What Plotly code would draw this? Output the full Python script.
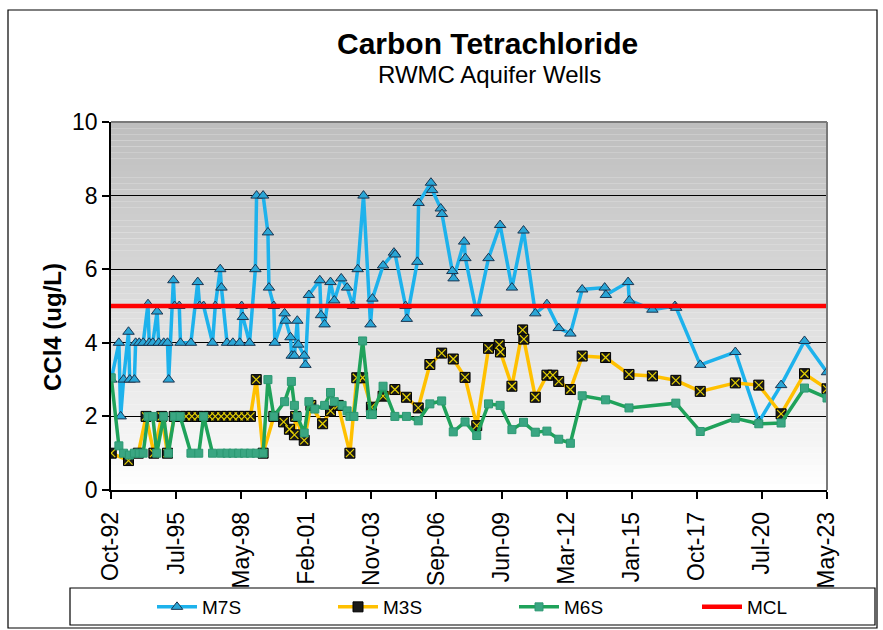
import pandas as pd
import plotly.graph_objects as go

# ---------------- data ----------------
m7s_dates = [
    "1992-10-05", "1993-02-01", "1993-03-01", "1993-04-15", "1993-07-01", "1993-07-20",
    "1993-10-01", "1993-10-20", "1993-12-15", "1994-02-15", "1994-05-01", "1994-05-20",
    "1994-07-15", "1994-09-20", "1994-10-15", "1995-01-01", "1995-03-01", "1995-03-20",
    "1995-06-01", "1995-06-20", "1995-09-01", "1995-09-20", "1996-03-01", "1996-06-15",
    "1996-07-15", "1996-09-15", "1997-02-01", "1997-03-15", "1997-06-01", "1997-06-20",
    "1997-09-15", "1997-12-15", "1998-04-01", "1998-05-01", "1998-05-20", "1998-09-01",
    "1998-12-01", "1998-12-20", "1999-04-01", "1999-06-15", "1999-07-01", "1999-09-15",
    "1999-10-01", "2000-03-01", "2000-03-20", "2000-06-01", "2000-06-20", "2000-08-01",
    "2000-09-15", "2000-10-01", "2001-01-01", "2001-01-20", "2001-03-15", "2001-09-01",
    "2001-09-20", "2001-11-15", "2002-02-15", "2002-04-15", "2002-08-01", "2002-11-01",
    "2003-02-01", "2003-04-15", "2003-07-15", "2003-11-01", "2003-12-01", "2004-05-15",
    "2004-11-01", "2004-11-20", "2005-05-01", "2005-05-20", "2005-11-01", "2005-11-20",
    "2006-06-01", "2006-06-20", "2006-11-01", "2006-11-20", "2007-05-01", "2007-05-20",
    "2007-11-01", "2007-11-20", "2008-05-15", "2008-11-15", "2009-05-15", "2009-11-15",
    "2010-05-15", "2010-11-15", "2011-05-15", "2011-11-15", "2012-05-15", "2012-11-15",
    "2013-11-01", "2013-11-20", "2014-11-01", "2014-11-20", "2015-11-15", "2016-11-01",
    "2016-11-20", "2017-12-01", "2019-06-01", "2020-06-01", "2021-05-15", "2022-05-15",
    "2023-05-01",
]
m7s_values = [
    3.0, 4.0, 2.0, 3.0, 4.3, 3.0,
    3.0, 4.0, 4.0, 4.0, 5.05, 4.0,
    4.0, 4.85, 4.0, 4.0, 4.0, 3.0,
    5.7, 5.0, 5.0, 4.0, 4.0, 5.65,
    5.0, 5.0, 4.0, 5.0, 6.0, 5.5,
    4.0, 4.0, 4.0, 5.0, 4.7, 4.0,
    6.0, 8.0, 8.0, 7.0, 5.5, 5.0,
    4.0, 4.8, 4.6, 4.15, 3.65, 3.65,
    4.6, 3.95, 3.65, 3.4, 5.3, 5.7,
    4.75, 4.5, 5.65, 5.15, 5.75, 5.5,
    5.0, 6.0, 8.0, 4.5, 5.2, 6.1,
    6.45, 6.4, 5.0, 4.65, 6.2, 7.8,
    8.35, 8.15, 7.65, 7.5, 5.95, 5.75,
    6.75, 6.3, 4.8, 6.3, 7.2, 5.5,
    7.05, 4.8, 5.05, 4.4, 4.25, 5.45,
    5.5, 5.3, 5.65, 5.15, 4.9, 5.0,
    4.95, 3.4, 3.75, 1.85, 2.85, 4.05,
    3.2,
]

m3s_dates = [
    "1992-10-05", "1993-07-01", "1993-12-01", "1994-04-01", "1994-08-01", "1994-12-01",
    "1995-03-01", "1995-06-15", "1995-09-15", "1995-12-15", "1996-03-15", "1996-06-15",
    "1996-09-15", "1996-12-15", "1997-03-15", "1997-06-15", "1997-09-15", "1997-12-15",
    "1998-03-15", "1998-06-15", "1998-09-15", "1998-12-15", "1999-04-01", "1999-09-15",
    "2000-02-15", "2000-05-15", "2000-08-01", "2000-08-20", "2001-01-01", "2001-04-15",
    "2001-10-15", "2002-02-15", "2002-06-15", "2002-12-15", "2003-04-01", "2003-07-01",
    "2003-11-15", "2004-05-15", "2004-11-15", "2005-05-15", "2005-11-15", "2006-05-15",
    "2006-11-15", "2007-05-15", "2007-11-15", "2008-05-15", "2008-11-15", "2009-05-01",
    "2009-05-20", "2009-11-15", "2010-05-01", "2010-05-20", "2010-11-15", "2011-05-15",
    "2011-08-15", "2011-11-15", "2012-05-15", "2012-11-15", "2013-11-15", "2014-11-15",
    "2015-11-15", "2016-11-15", "2017-12-01", "2019-06-01", "2020-06-01", "2021-05-15",
    "2022-05-15", "2023-05-01",
]
m3s_values = [
    1.0, 0.8, 1.0, 2.0, 1.0, 2.0,
    1.0, 2.0, 2.0, 2.0, 2.0, 2.0,
    2.0, 2.0, 2.0, 2.0, 2.0, 2.0,
    2.0, 2.0, 2.0, 3.0, 1.0, 2.0,
    1.85, 1.65, 1.5, 2.0, 1.35, 2.3,
    1.8, 2.15, 2.3, 1.0, 3.05, 3.05,
    2.25, 2.55, 2.73, 2.52, 2.23, 3.41,
    3.72, 3.56, 3.06, 1.75, 3.85, 3.95,
    3.75, 2.82, 4.35, 4.1, 2.52, 3.12,
    3.12, 2.95, 2.73, 3.64, 3.6, 3.14,
    3.1, 2.98, 2.68, 2.91, 2.85, 2.07,
    3.16, 2.75,
]

m6s_dates = [
    "1992-10-05", "1993-02-01", "1993-04-15", "1993-07-15", "1993-10-01", "1993-12-15",
    "1994-02-15", "1994-05-01", "1994-07-15", "1994-09-15", "1995-01-01", "1995-03-15",
    "1995-06-15", "1995-09-15", "1996-03-01", "1996-07-01", "1996-09-15", "1997-02-01",
    "1997-06-15", "1997-09-15", "1997-12-15", "1998-03-15", "1998-06-15", "1998-09-15",
    "1998-12-15", "1999-04-01", "1999-06-15", "1999-09-15", "2000-03-01", "2000-06-15",
    "2000-08-01", "2000-09-15", "2001-01-01", "2001-03-15", "2001-06-15", "2001-11-15",
    "2002-02-15", "2002-04-15", "2002-08-15", "2002-11-01", "2002-12-15", "2003-02-15",
    "2003-07-01", "2003-11-01", "2003-12-01", "2004-05-15", "2004-11-15", "2005-05-15",
    "2005-11-15", "2006-05-15", "2006-11-15", "2007-05-15", "2007-11-15", "2008-05-15",
    "2008-11-15", "2009-05-15", "2009-11-15", "2010-05-15", "2010-11-15", "2011-05-15",
    "2011-11-15", "2012-05-15", "2012-11-15", "2013-11-15", "2014-11-15", "2016-11-15",
    "2017-12-01", "2019-06-01", "2020-06-01", "2021-05-15", "2022-05-15", "2023-05-01",
]
m6s_values = [
    3.05, 1.2, 1.0, 0.95, 1.0, 1.0,
    1.0, 2.0, 2.0, 1.0, 2.0, 1.0,
    2.0, 2.0, 1.0, 1.0, 2.0, 1.0,
    1.0, 1.0, 1.0, 1.0, 1.0, 1.0,
    1.0, 1.0, 3.0, 2.0, 2.4, 2.95,
    2.3, 2.0, 1.55, 2.4, 2.2, 2.3,
    2.65, 2.4, 2.3, 2.15, 2.0, 2.0,
    4.05, 2.05, 2.05, 2.82, 2.0, 2.0,
    1.88, 2.34, 2.42, 1.58, 1.85, 1.48,
    2.34, 2.3, 1.64, 1.84, 1.57, 1.6,
    1.38, 1.27, 2.56, 2.45, 2.23, 2.36,
    1.59, 1.95, 1.8, 1.82, 2.77, 2.5,
]

mcl_value = 5.0
x_start, x_end = "1992-10-01", "2023-05-01"
x_tick_labels = ["Oct-92", "Jul-95", "May-98", "Feb-01", "Nov-03", "Sep-06",
                 "Jun-09", "Mar-12", "Jan-15", "Oct-17", "Jul-20", "May-23"]
y_tick_values = [0, 2, 4, 6, 8, 10]

# ---------------- layout geometry (pixels) ----------------
W, H = 883, 630
PL, PR, PT, PB = 111, 827, 122, 490      # plot area edges


def px_x(px):
    return (px - PL) / (PR - PL)


def px_y(py):
    return (PB - py) / (PB - PT)


FONT = "Arial, Liberation Sans, sans-serif"

x_tick_vals = pd.date_range(pd.Timestamp(x_start), pd.Timestamp(x_end),
                            periods=len(x_tick_labels))

fig = go.Figure()

# M7S
fig.add_trace(go.Scatter(
    x=m7s_dates, y=m7s_values, name="M7S", mode="lines+markers",
    legend="legend",
    line=dict(color="#1db2ec", width=3.5),
    marker=dict(symbol="triangle-up", size=10, color="#2aa6d6",
                line=dict(color="#1b3550", width=1)),
))

# M3S: black squares with a yellow cross
fig.add_trace(go.Scatter(
    x=m3s_dates, y=m3s_values, name="M3S", mode="lines+markers",
    legend="legend2",
    line=dict(color="#ffc000", width=3.5),
    marker=dict(symbol="square", size=10, color="#1a1a1a",
                line=dict(color="#000000", width=1)),
))
fig.add_trace(go.Scatter(
    x=m3s_dates, y=m3s_values, mode="markers", showlegend=False,
    hoverinfo="skip",
    marker=dict(symbol="x-thin-open", size=8, color="#e6d200",
                line=dict(color="#e6d200", width=1.2)),
))

# M6S
fig.add_trace(go.Scatter(
    x=m6s_dates, y=m6s_values, name="M6S", mode="lines+markers",
    legend="legend3",
    line=dict(color="#1fa25a", width=3.5),
    marker=dict(symbol="square", size=8, color="#3aa682",
                line=dict(color="#2b9872", width=1)),
))

# MCL
fig.add_trace(go.Scatter(
    x=[x_start, x_end], y=[mcl_value, mcl_value], name="MCL", mode="lines",
    legend="legend4",
    line=dict(color="#ff0000", width=4.5),
))

shapes = []
# plot-area background: grey at the top fading to white at the bottom
n_bands = 60
for i in range(n_bands):
    f = i / (n_bands - 1)            # 0 at bottom, 1 at top
    c = int(round(255 - (255 - 190) * f ** 0.9))
    shapes.append(dict(type="rect", xref="x domain", yref="y domain",
                       x0=0, x1=1, y0=i / n_bands, y1=(i + 1) / n_bands,
                       fillcolor=f"rgb({c},{c},{c})", line=dict(width=0),
                       layer="below"))
# plot-area frame (top and right in grey)
shapes.append(dict(type="line", xref="x domain", yref="y domain",
                   x0=0, x1=1, y0=1, y1=1, line=dict(color="#7a7a7a", width=2)))
shapes.append(dict(type="line", xref="x domain", yref="y domain",
                   x0=1, x1=1, y0=0, y1=1, line=dict(color="#7a7a7a", width=2)))
# outer chart border
shapes.append(dict(type="rect", xref="paper", yref="paper",
                   x0=px_x(8), x1=px_x(877), y0=px_y(628), y1=px_y(10),
                   line=dict(color="#000000", width=1.2), fillcolor="rgba(0,0,0,0)"))
# legend box
shapes.append(dict(type="rect", xref="paper", yref="paper",
                   x0=px_x(70), x1=px_x(875), y0=px_y(625), y1=px_y(588),
                   line=dict(color="#000000", width=1.2), fillcolor="rgba(0,0,0,0)"))

annotations = [
    dict(text="<b>Carbon Tetrachloride</b>", xref="paper", yref="paper",
         x=px_x(487), y=px_y(43), xanchor="center", yanchor="middle",
         showarrow=False, font=dict(family=FONT, size=30, color="#000000")),
    dict(text="RWMC Aquifer Wells", xref="paper", yref="paper",
         x=px_x(489), y=px_y(75), xanchor="center", yanchor="middle",
         showarrow=False, font=dict(family=FONT, size=24, color="#000000")),
    dict(text="<b>CCl4 (ug/L)</b>", xref="paper", yref="paper",
         x=px_x(52), y=px_y(327), xanchor="center", yanchor="middle",
         textangle=-90, showarrow=False,
         font=dict(family=FONT, size=24, color="#000000")),
]

# one single-entry legend per series, spaced evenly across the legend box
legend_style = dict(orientation="h", xanchor="left", yanchor="middle",
                    itemwidth=40, bgcolor="rgba(0,0,0,0)", borderwidth=0,
                    font=dict(family=FONT, size=19, color="#000000"))
legend_left = [152, 333, 514, 697]
legends = {}
for i, left in enumerate(legend_left):
    key = "legend" if i == 0 else f"legend{i + 1}"
    legends[key] = dict(legend_style, x=px_x(left), y=px_y(607))

fig.update_layout(
    width=W, height=H,
    margin=dict(l=PL, r=W - PR, t=PT, b=H - PB, pad=0, autoexpand=False),
    paper_bgcolor="#ffffff",
    plot_bgcolor="rgba(0,0,0,0)",
    font=dict(family=FONT, color="#000000"),
    shapes=shapes,
    annotations=annotations,
    showlegend=True,
    **legends,
)

fig.update_xaxes(
    type="date", range=[x_start, x_end],
    tickvals=x_tick_vals, ticktext=x_tick_labels, tickangle=-90,
    tickfont=dict(family=FONT, size=23, color="#000000"),
    ticks="outside", ticklen=7, tickcolor="#000000", tickwidth=1.5,
    ticklabelstandoff=4,
    showline=True, linecolor="#000000", linewidth=1.5,
    showgrid=False, zeroline=False, automargin=False,
)
fig.update_yaxes(
    range=[0, 10], tickvals=y_tick_values,
    tickfont=dict(family=FONT, size=23, color="#000000"),
    ticks="outside", ticklen=7, tickcolor="#000000", tickwidth=1.5,
    showline=True, linecolor="#000000", linewidth=1.5,
    showgrid=True, gridcolor="#000000", gridwidth=1,
    zeroline=False, automargin=False,
)

fig.write_html("out.html")
